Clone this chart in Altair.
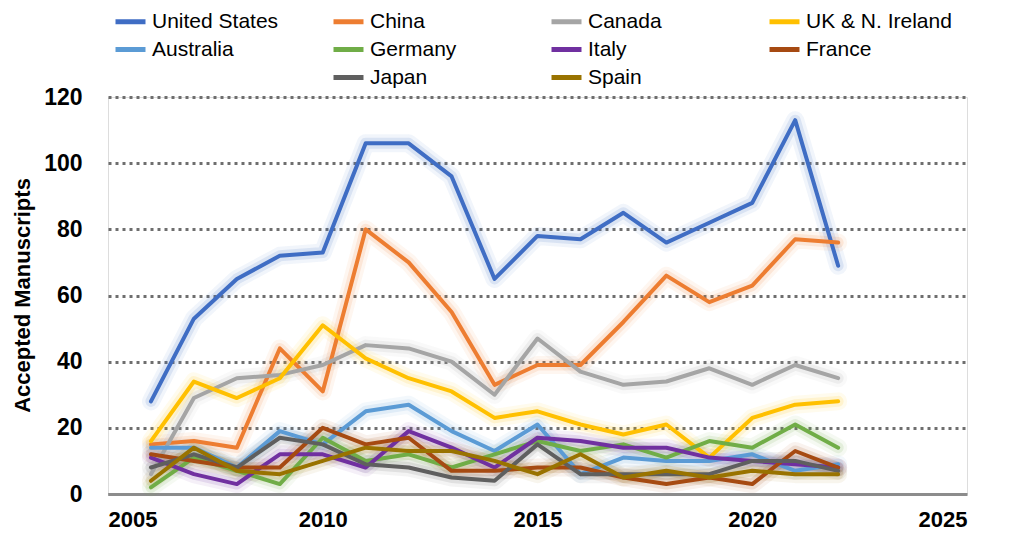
import altair as alt
import pandas as pd

years = list(range(2006, 2023))

countries = ["United States", "China", "Canada", "UK & N. Ireland", "Australia",
             "Germany", "Italy", "France", "Japan", "Spain"]
colors = ["#3F6DC4", "#ED7D31", "#A5A5A5", "#FFC000", "#5B9BD5",
          "#70AD47", "#7030A0", "#A64A12", "#5F5F5F", "#997300"]

united_states = [28, 53, 65, 72, 73, 106, 106, 96, 65, 78, 77, 85, 76, 82, 88, 113, 69]
china =         [15, 16, 14, 44, 31, 80, 70, 55, 33, 39, 39, 52, 66, 58, 63, 77, 76]
canada =        [6, 29, 35, 36, 39, 45, 44, 40, 30, 47, 37, 33, 34, 38, 33, 39, 35]
uk_ni =         [16, 34, 29, 35, 51, 41, 35, 31, 23, 25, 21, 18, 21, 11, 23, 27, 28]
australia =     [14, 14, 8, 19, 15, 25, 27, 19, 13, 21, 6, 11, 10, 10, 12, 7, 9]
germany =       [2, 11, 7, 3, 17, 10, 12, 8, 12, 16, 13, 15, 11, 16, 14, 21, 14]
italy =         [11, 6, 3, 12, 12, 8, 19, 14, 8, 17, 16, 14, 14, 11, 10, 9, 8]
france =        [12, 10, 8, 8, 20, 15, 17, 7, 7, 8, 8, 5, 3, 5, 3, 13, 8]
japan =         [8, 12, 8, 17, 15, 9, 8, 5, 4, 15, 6, 6, 6, 6, 10, 10, 7]
spain =         [4, 14, 7, 6, 10, 14, 13, 13, 10, 6, 12, 5, 7, 5, 7, 6, 6]

series = [united_states, china, canada, uk_ni, australia,
          germany, italy, france, japan, spain]

rows = []
for i, (name, vals) in enumerate(zip(countries, series)):
    for y, v in zip(years, vals):
        rows.append({"Country": name, "Year": y, "Value": v, "ord": i})
df = pd.DataFrame(rows)

# legend order with an empty slot so Japan/Spain sit in columns 2-3 of row 3
legend_domain = countries[:8] + [" "] + countries[8:]
legend_range = colors[:8] + ["rgba(0,0,0,0)"] + colors[8:]

FONT = "Liberation Sans"

x_enc = alt.X("Year:Q", scale=alt.Scale(domain=[2005, 2025], nice=False),
              axis=alt.Axis(values=[2005, 2010, 2015, 2020, 2025], format="d",
                            title=None, grid=False, ticks=False,
                            domainColor="#8C8C8C", domainWidth=3,
                            labelFont=FONT, labelFontSize=22, labelFontWeight="bold",
                            labelColor="#000000", labelPadding=15))
y_enc = alt.Y("Value:Q", scale=alt.Scale(domain=[0, 120], nice=False),
              axis=alt.Axis(values=[0, 20, 40, 60, 80, 100, 120], title="Accepted Manuscripts",
                            grid=True, gridDash=[3, 4], gridWidth=3, gridColor="#6E6E6E",
                            domain=False, ticks=False,
                            labelFont=FONT, labelFontSize=23, labelFontWeight="bold",
                            labelColor="#000000", labelPadding=26,
                            titleFont=FONT, titleFontSize=22, titleFontWeight="bold",
                            titleColor="#000000", titleAngle=-90, titleX=-86, titleY=198,
                            titleAlign="center", titleBaseline="middle"))

color_scale = alt.Scale(domain=legend_domain, range=legend_range)

glow1 = alt.Chart(df).mark_line(strokeWidth=18, opacity=0.07, strokeJoin="round", strokeCap="round").encode(
    x=x_enc, y=y_enc,
    color=alt.Color("Country:N", scale=color_scale, legend=None),
    detail="Country:N", order="Year:Q")
glow2 = alt.Chart(df).mark_line(strokeWidth=11, opacity=0.13, strokeJoin="round", strokeCap="round").encode(
    x=x_enc, y=y_enc,
    color=alt.Color("Country:N", scale=color_scale, legend=None),
    detail="Country:N", order="Year:Q")
lines = alt.Chart(df).mark_line(strokeWidth=4, strokeJoin="round", strokeCap="round").encode(
    x=x_enc, y=y_enc,
    color=alt.Color("Country:N", scale=color_scale,
                    legend=alt.Legend(title=None, orient="none", legendX=5, legendY=-93,
                                      direction="horizontal",
                                      columns=4, gridAlign="all", columnPadding=25,
                                      rowPadding=-2, padding=0,
                                      symbolType="stroke", symbolSize=900,
                                      symbolStrokeWidth=5, labelOffset=4,
                                      labelFont=FONT, labelFontSize=21,
                                      labelColor="#000000", labelLimit=400)),
    order="Year:Q")

chart = alt.layer(glow1, glow2, lines).resolve_legend(color="independent").properties(
    width=859, height=397,
    autosize=alt.AutoSizeParams(type="none"),
    padding={"left": 100, "top": 89, "right": 36, "bottom": 39},
).configure_view(stroke=None).configure(background="#FFFFFF")

chart.save("out.html", embed_options={"renderer": "svg", "actions": False})
